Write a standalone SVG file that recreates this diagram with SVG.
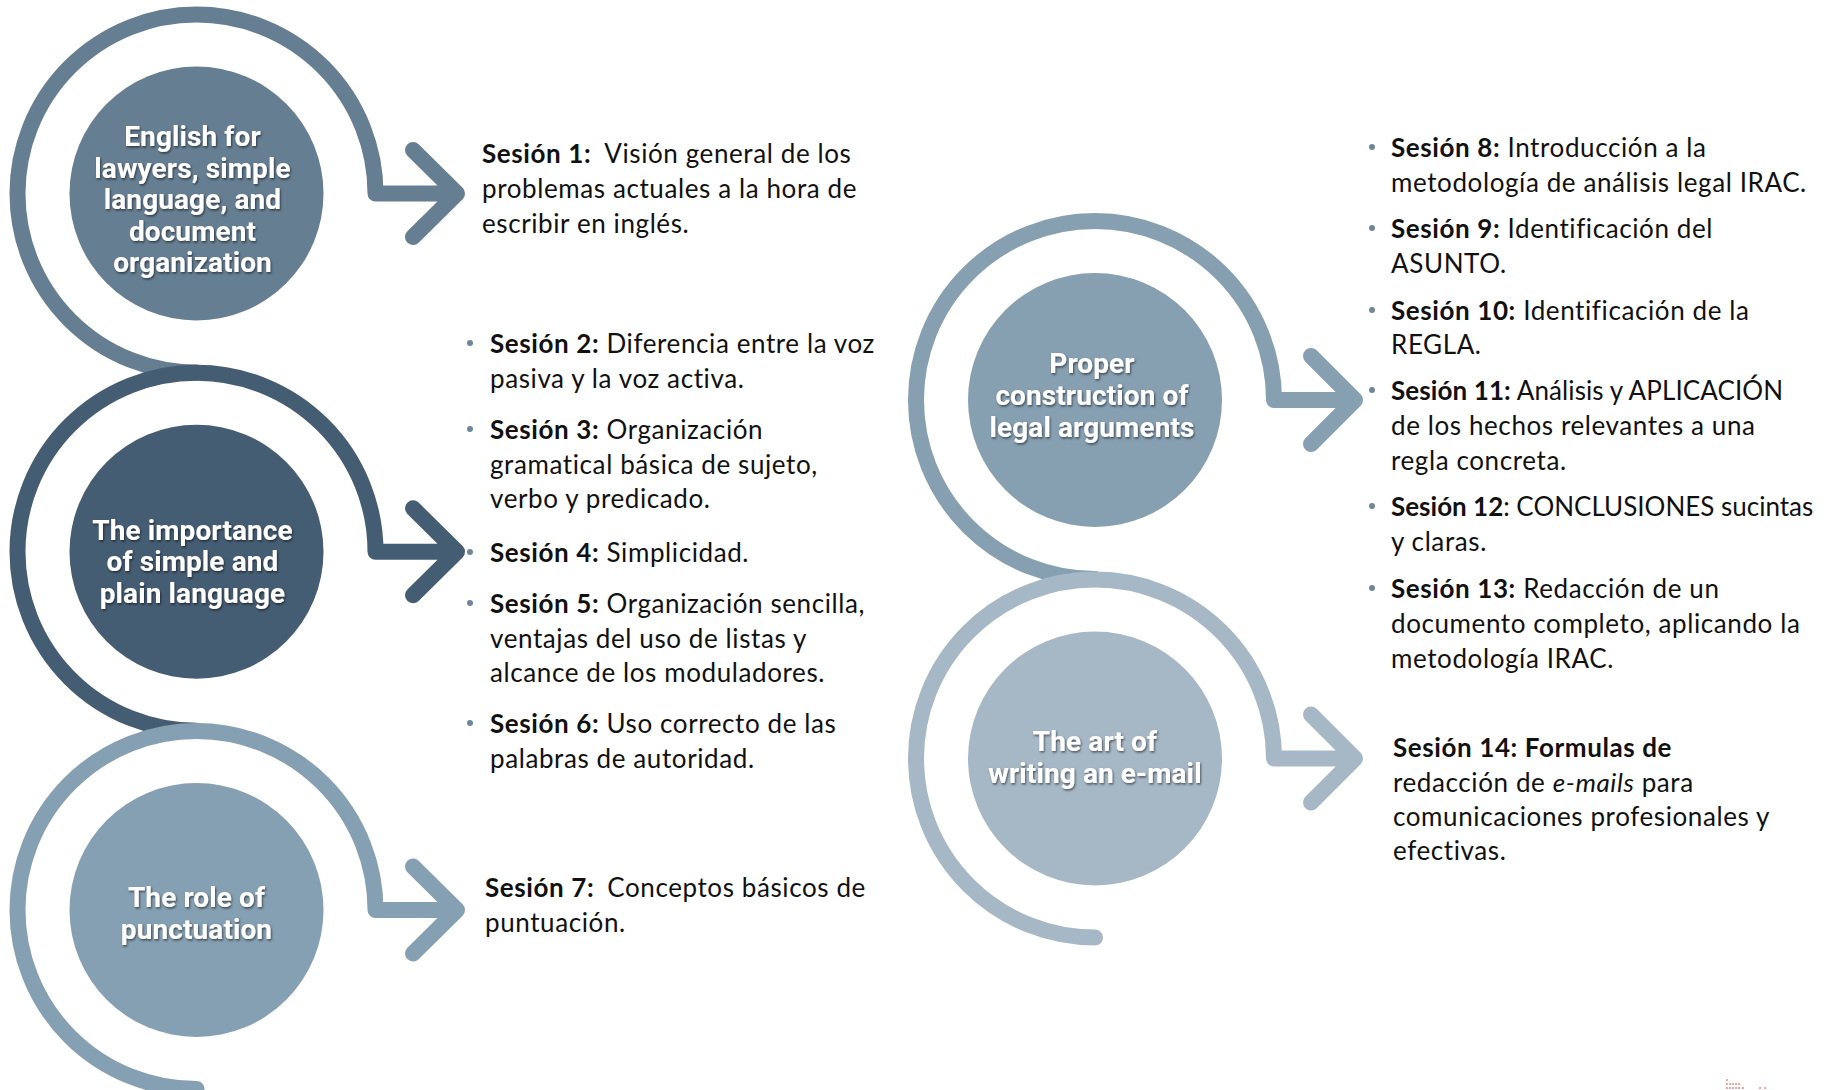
<svg xmlns="http://www.w3.org/2000/svg" width="1830" height="1090" viewBox="0 0 1830 1090">
<defs>
<filter id="ts" x="-10%" y="-20%" width="120%" height="140%">
<feDropShadow dx="1" dy="1.5" stdDeviation="1" flood-color="#000" flood-opacity="0.55"/>
</filter>
</defs>
<style>
.ring{fill:none;stroke-width:16;stroke-linecap:round;stroke-linejoin:round}
.lbl{font-family:Roboto,"Liberation Sans",sans-serif;font-weight:700;font-size:28px;letter-spacing:0.1px;fill:#fff;text-anchor:middle;filter:url(#ts)}
.t{font-family:Lato,"Liberation Sans",sans-serif;font-size:26px;letter-spacing:0.6px;fill:#111}
.b{font-weight:700}
.i{font-style:italic}
.n0{letter-spacing:0px}
.n1{letter-spacing:0.1px}
.dot{fill:#6f8699}
.c1{stroke:#657e92}.f1{fill:#657e92}
.c2{stroke:#455d73}.f2{fill:#455d73}
.c3{stroke:#85a0b2}.f3{fill:#85a0b2}
.c4{stroke:#86a0b2}.f4{fill:#86a0b2}
.c5{stroke:#a6b8c6}.f5{fill:#a6b8c6}
</style>
<rect width="1830" height="1090" fill="#fff"/>

<g id="connectors">
<g id="arrow1"><path class="ring c1" d="M196.5 372.5 A179 179 0 1 1 375.5 193.5 L457 193.5 M413 150 L457 193.5 L413 237"/></g>
<g id="arrow2"><path class="ring c2" d="M196.5 730.75 A179 179 0 1 1 375.5 551.75 L457 551.75 M413 508.25 L457 551.75 L413 595.25"/></g>
<g id="arrow3"><path class="ring c3" d="M196.5 1089 A179 179 0 1 1 375.5 910 L457 910 M413 866.5 L457 910 L413 953.5"/></g>
<g id="arrow4"><path class="ring c4" d="M1095 579 A179 179 0 1 1 1274 400 L1355 400 M1311 356 L1355 400 L1311 444"/></g>
<g id="arrow5"><path class="ring c5" d="M1095 937.5 A179 179 0 1 1 1274 758.5 L1355 758.5 M1311 714.5 L1355 758.5 L1311 802.5"/></g>
</g>

<g id="node1">
<circle class="f1" cx="196.5" cy="193.5" r="127"/>
<text class="lbl"><tspan x="192.5" y="146">English for</tspan><tspan x="192.5" y="177.5">lawyers, simple</tspan><tspan x="192.5" y="209">language, and</tspan><tspan x="192.5" y="240.5">document</tspan><tspan x="192.5" y="272">organization</tspan></text>
</g>
<g id="node2">
<circle class="f2" cx="196.5" cy="551.75" r="127"/>
<text class="lbl"><tspan x="192.5" y="539.5">The importance</tspan><tspan x="192.5" y="571">of simple and</tspan><tspan x="192.5" y="602.5">plain language</tspan></text>
</g>
<g id="node3">
<circle class="f3" cx="196.5" cy="910" r="127"/>
<text class="lbl"><tspan x="196.5" y="907">The role of</tspan><tspan x="196.5" y="938.5">punctuation</tspan></text>
</g>
<g id="node4">
<circle class="f4" cx="1095" cy="400" r="127"/>
<text class="lbl"><tspan x="1092" y="373">Proper</tspan><tspan x="1092" y="405">construction of</tspan><tspan x="1092" y="437">legal arguments</tspan></text>
</g>
<g id="node5">
<circle class="f5" cx="1095" cy="758.5" r="127"/>
<text class="lbl"><tspan x="1095" y="751">The art of</tspan><tspan x="1095" y="783">writing an e-mail</tspan></text>
</g>

<g id="sessions-left">
<text class="t"><tspan x="482" y="163"><tspan class="b">Sesión 1:</tspan><tspan dx="13">Visión general de los</tspan></tspan><tspan x="482" y="198">problemas actuales a la hora de</tspan><tspan x="482" y="233">escribir en inglés.</tspan></text>

<circle class="dot" cx="470" cy="343" r="3"/>
<text class="t"><tspan x="490" y="353"><tspan class="b">Sesión 2:</tspan> Diferencia entre la voz</tspan><tspan x="490" y="388">pasiva y la voz activa.</tspan></text>

<circle class="dot" cx="470" cy="429" r="3"/>
<text class="t"><tspan x="490" y="439"><tspan class="b">Sesión 3:</tspan> Organización</tspan><tspan x="490" y="474">gramatical básica de sujeto,</tspan><tspan x="490" y="508">verbo y predicado.</tspan></text>

<circle class="dot" cx="470" cy="552" r="3"/>
<text class="t"><tspan x="490" y="562"><tspan class="b">Sesión 4:</tspan> Simplicidad.</tspan></text>

<circle class="dot" cx="470" cy="603" r="3"/>
<text class="t"><tspan x="490" y="613"><tspan class="b">Sesión 5:</tspan> Organización sencilla,</tspan><tspan x="490" y="648">ventajas del uso de listas y</tspan><tspan x="490" y="682">alcance de los moduladores.</tspan></text>

<circle class="dot" cx="470" cy="723" r="3"/>
<text class="t"><tspan x="490" y="733"><tspan class="b">Sesión 6:</tspan> Uso correcto de las</tspan><tspan x="490" y="768">palabras de autoridad.</tspan></text>

<text class="t"><tspan x="485" y="897"><tspan class="b">Sesión 7:</tspan><tspan dx="13">Conceptos básicos de</tspan></tspan><tspan x="485" y="932">puntuación.</tspan></text>
</g>

<g id="sessions-right">
<circle class="dot" cx="1372" cy="147" r="3"/>
<text class="t"><tspan x="1391" y="157"><tspan class="b">Sesión 8:</tspan> Introducción a la</tspan><tspan x="1391" y="192">metodología de análisis legal IRAC.</tspan></text>

<circle class="dot" cx="1372" cy="228" r="3"/>
<text class="t"><tspan x="1391" y="238"><tspan class="b">Sesión 9:</tspan> Identificación del</tspan><tspan x="1391" y="273">ASUNTO.</tspan></text>

<circle class="dot" cx="1372" cy="310" r="3"/>
<text class="t"><tspan x="1391" y="320"><tspan class="b">Sesión 10:</tspan> Identificación de la</tspan><tspan x="1391" y="354">REGLA.</tspan></text>

<circle class="dot" cx="1372" cy="390" r="3"/>
<text class="t"><tspan x="1391" y="400" class="n1"><tspan class="b">Sesión 11:</tspan> Análisis y APLICACIÓN</tspan><tspan x="1391" y="435">de los hechos relevantes a una</tspan><tspan x="1391" y="470">regla concreta.</tspan></text>

<circle class="dot" cx="1372" cy="506" r="3"/>
<text class="t"><tspan x="1391" y="516" class="n0"><tspan class="b">Sesión 12</tspan>: CONCLUSIONES sucintas</tspan><tspan x="1391" y="551">y claras.</tspan></text>

<circle class="dot" cx="1372" cy="588" r="3"/>
<text class="t"><tspan x="1391" y="598"><tspan class="b">Sesión 13:</tspan> Redacción de un</tspan><tspan x="1391" y="633">documento completo, aplicando la</tspan><tspan x="1391" y="668">metodología IRAC.</tspan></text>

<text class="t"><tspan x="1393" y="757" class="b">Sesión 14: Formulas de</tspan><tspan x="1393" y="792">redacción de <tspan class="i">e-mails</tspan> para</tspan><tspan x="1393" y="826">comunicaciones profesionales y</tspan><tspan x="1393" y="860">efectivas.</tspan></text>
</g>

<g id="marks" fill="#ec8a8a">
<circle cx="1727" cy="1080" r="1"/>
<circle cx="1727" cy="1084" r="1"/><circle cx="1730" cy="1084" r="1"/><circle cx="1733" cy="1084" r="1"/><circle cx="1736" cy="1084" r="1"/><circle cx="1739" cy="1084" r="1"/>
<circle cx="1727" cy="1088" r="1"/><circle cx="1730" cy="1088" r="1"/><circle cx="1733" cy="1088" r="1"/><circle cx="1736" cy="1088" r="1"/><circle cx="1739" cy="1088" r="1"/><circle cx="1743" cy="1088" r="1"/>
<circle cx="1760" cy="1088" r="1"/><circle cx="1765" cy="1088" r="1"/>
</g>
</svg>
